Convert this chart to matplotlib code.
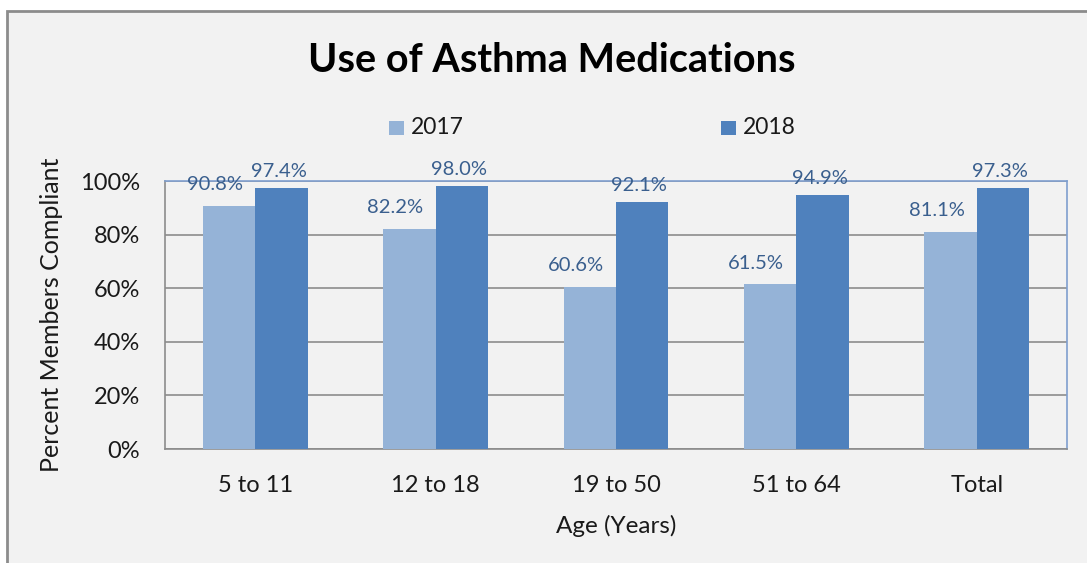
import matplotlib
matplotlib.use("Agg")
import matplotlib.pyplot as plt
import numpy as np
from matplotlib.patches import Rectangle
from matplotlib.ticker import PercentFormatter

# Asthma medication compliance by age group
age_groups = ["5 to 11", "12 to 18", "19 to 50", "51 to 64", "Total"]
pct_2017 = [90.8, 82.2, 60.6, 61.5, 81.1]
pct_2018 = [97.4, 98.0, 92.1, 94.9, 97.3]
yticks = [0, 20, 40, 60, 80, 100]

plt.rcParams["font.family"] = ["Lato", "DejaVu Sans"]

C17 = "#95b3d7"
C18 = "#4f81bd"
LABEL = "#3a5f8e"
GRID = "#8c8c8c"
TXT = "#1a1a1a"

W, H = 1087, 563
fig = plt.figure(figsize=(W / 100, H / 100), dpi=100, facecolor="white")

# chart panel, clipped by the right/bottom edges
fig.patches.append(Rectangle((7 / W, -0.05), 1.1, (H - 11) / H + 0.05,
                             transform=fig.transFigure, facecolor="#f2f2f2",
                             edgecolor=GRID, linewidth=2, zorder=-10))

ax = fig.add_axes([165 / W, (H - 449) / H, (1067 - 165) / W, (449 - 181) / H])
ax.set_facecolor("#f2f2f2")

x = np.arange(len(age_groups))
bw = 0.29
b17 = ax.bar(x - bw / 2, pct_2017, bw, color=C17, label="2017", zorder=3)
b18 = ax.bar(x + bw / 2, pct_2018, bw, color=C18, label="2018", zorder=3)

for rect, v in zip(b17, pct_2017):
    ax.annotate(f"{v:.1f}%", (rect.get_x() + rect.get_width() / 2, v),
                xytext=(-10, 15), textcoords="offset points", ha="center",
                va="center", fontsize=14.5, color=LABEL, zorder=4)
for rect, v in zip(b18, pct_2018):
    ax.annotate(f"{v:.1f}%", (rect.get_x() + rect.get_width() / 2, v),
                xytext=(-2, 12), textcoords="offset points", ha="center",
                va="center", fontsize=14.5, color=LABEL, zorder=4)

ax.set_xlim(-0.5, len(age_groups) - 0.5)
ax.set_ylim(0, 100)
ax.set_yticks(yticks)
ax.yaxis.set_major_formatter(PercentFormatter(decimals=0))
ax.set_xticks(x)
ax.set_xticklabels(age_groups)
ax.tick_params(axis="both", length=0, labelsize=17, colors=TXT)
ax.tick_params(axis="x", pad=19)
ax.tick_params(axis="y", pad=18)
ax.grid(axis="y", color=GRID, linewidth=1.2, zorder=1)

for side in ("left", "bottom"):
    ax.spines[side].set_color(GRID)
    ax.spines[side].set_linewidth(1.2)
for side in ("top", "right"):
    ax.spines[side].set_color("#7f9fcf")
    ax.spines[side].set_linewidth(1.2)

ax.set_xlabel("Age (Years)", fontsize=17.5, labelpad=13, color=TXT)
ax.set_ylabel("Percent Members Compliant", fontsize=18, labelpad=12, color=TXT)

fig.text(552 / W, 1 - 60 / H, "Use of Asthma Medications", ha="center",
         va="center", fontsize=28.5, fontweight="bold", color="black")

# legend entries spread across the top
for xs, lbl, col in [(389, "2017", C17), (721, "2018", C18)]:
    fig.patches.append(Rectangle((xs / W, 1 - 135 / H), 15 / W, 14 / H,
                                 transform=fig.transFigure, facecolor=col,
                                 edgecolor="none"))
    fig.text((xs + 22) / W, 1 - 128 / H, lbl, ha="left", va="center",
             fontsize=16.5, color=TXT)

fig.savefig("out.png", dpi=100, facecolor=fig.get_facecolor())
